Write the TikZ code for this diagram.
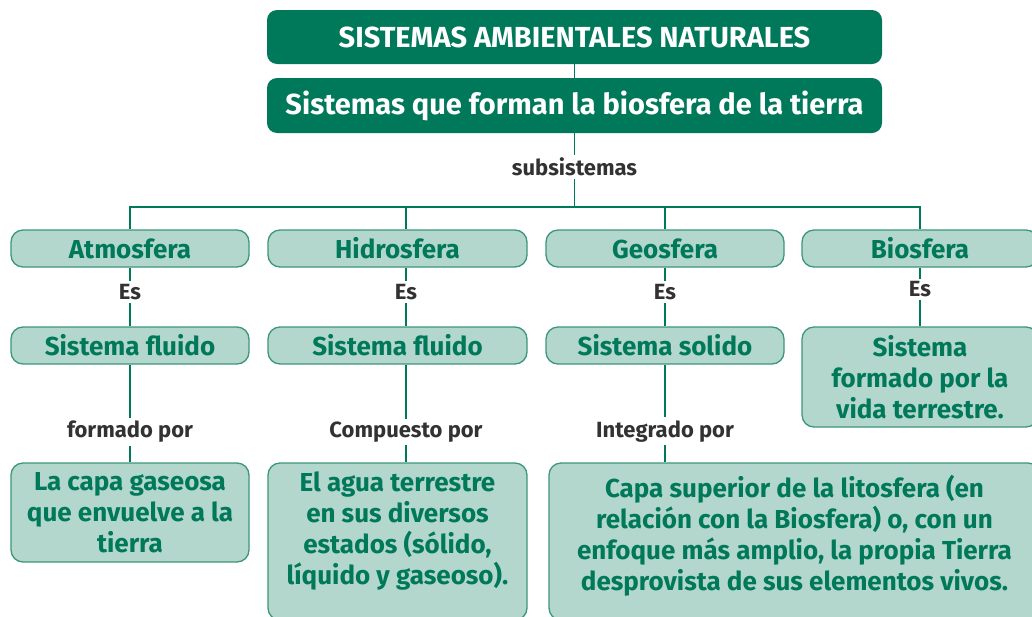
\documentclass[tikz,border=0pt]{standalone}
\usepackage{fontspec}
\setmainfont{Fira Sans}
\usepackage{tikz}
\definecolor{verde}{RGB}{0,120,90}
\definecolor{verdeclaro}{RGB}{179,215,205}
\definecolor{borde}{RGB}{60,150,122}
\definecolor{gris}{RGB}{50,50,50}
\begin{document}
\begin{tikzpicture}[x=1pt,y=-1pt,
titulo/.style={fill=verde,rounded corners=10pt,text=white,minimum width=615pt,inner sep=0pt},
caja/.style={draw=borde,line width=1.3pt,fill=verdeclaro,rounded corners=12pt,text=verde,align=center,inner sep=0pt,font=\fontsize{26}{31}\selectfont\bfseries},
etiq/.style={fill=white,text=gris,inner sep=3pt,font=\fontsize{22}{24}\selectfont\bfseries},
linea/.style={draw=verde,line width=1.8pt}]
\useasboundingbox (0,0) rectangle (1032,616);
\node[titulo,minimum height=54pt,font=\fontsize{29}{32}\selectfont\bfseries] (A) at (574.5,37) {SISTEMAS AMBIENTALES NATURALES};
\node[titulo,minimum height=55pt,font=\fontsize{29}{32}\selectfont\bfseries] (B) at (574.5,105.5) {Sistemas que forman la biosfera de la tierra};
\coordinate (J) at (574.5,207);
% subsistemas
\node[caja,minimum width=238pt,minimum height=37pt] (C) at (130,248.5) {Atmosfera};
\node[caja,minimum width=259pt,minimum height=37pt] (D) at (397.5,248.5) {Hidrosfera};
\node[caja,minimum width=238pt,minimum height=37pt] (E) at (665,248.5) {Geosfera};
\node[caja,minimum width=236pt,minimum height=37pt] (F) at (920,248.5) {Biosfera};
% que son
\node[caja,minimum width=238pt,minimum height=37pt] (G) at (130,345.5) {Sistema fluido};
\node[caja,minimum width=259pt,minimum height=37pt] (H) at (397.5,345.5) {Sistema fluido};
\node[caja,minimum width=238pt,minimum height=37pt] (I) at (665,345.5) {Sistema solido};
\node[caja,minimum width=236pt,minimum height=100pt] (K) at (920,377) {Sistema\\ formado por la\\ vida terrestre.};
% de que estan hechos
\node[caja,minimum width=238pt,minimum height=99pt] (L) at (130,512.5) {La capa gaseosa\\ que envuelve a la\\ tierra};
\node[caja,minimum width=259pt,minimum height=157pt,text depth=26pt] (M) at (397.5,541.5) {El agua terrestre\\ en sus diversos\\ estados (sólido,\\ líquido y gaseoso).};
\node[caja,minimum width=491pt,minimum height=157pt,text depth=17pt] (N) at (794.5,541.5) {Capa superior de la litosfera (en\\ relación con la Biosfera) o, con un\\ enfoque más amplio, la propia Tierra\\ desprovista de sus elementos vivos.};
\draw[linea] (C.north) |- (J) -| (F.north);
\draw[linea] ([xshift=8.5pt]D.north) |- (J);
\draw[linea] (E.north) |- (J);
\path[linea]
(A) edge (B)
(B) edge node[etiq,pos=0.46]{subsistemas} (J)
(C) edge node[etiq,pos=0.42]{Es} (G)
([xshift=8.5pt]D.south) edge node[etiq,pos=0.42]{Es} ([xshift=8.5pt]H.north)
(E) edge node[etiq,pos=0.42]{Es} (I)
(F) edge node[etiq,pos=0.37]{Es} (K)
(G) edge node[etiq,pos=0.69]{formado por} (L)
([xshift=8.5pt]H.south) edge node[etiq,pos=0.69]{Compuesto por} ([xshift=8.5pt]M.north)
(I) edge node[etiq,pos=0.68]{Integrado por} (I |- N.north);
\end{tikzpicture}
\end{document}
